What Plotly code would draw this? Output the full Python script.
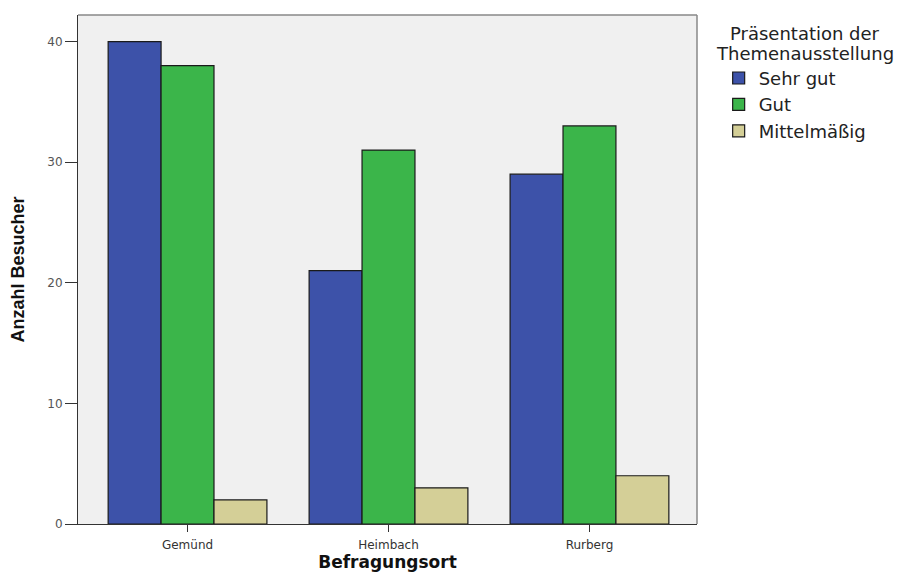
import plotly.graph_objects as go

categories = ["Gemünd", "Heimbach", "Rurberg"]
series_names = ["Sehr gut", "Gut", "Mittelmäßig"]
sehr_gut = [40, 21, 29]
gut = [38, 31, 33]
mittelmaessig = [2, 3, 4]
y_ticks = [0, 10, 20, 30, 40]
legend_title_lines = ["Präsentation der", "Themenausstellung"]

colors = ["#3D52A9", "#3BB54A", "#D4CF97"]
values = [sehr_gut, gut, mittelmaessig]

fig = go.Figure()
for name, vals, col in zip(series_names, values, colors):
    fig.add_trace(go.Bar(
        x=categories, y=vals, name=name, legendgroup=name,
        marker=dict(color=col, line=dict(color="#1a1a1a", width=1.2)),
    ))

# page body has an 8px margin -> shrink figure so it fits the window
W, H = 895, 564
fig.update_layout(
    width=W, height=H,
    margin=dict(l=70, r=206, t=7, b=48),
    paper_bgcolor="white",
    plot_bgcolor="#F0F0F0",
    barmode="group",
    bargap=0.21,
    bargroupgap=0,
    font=dict(family="DejaVu Sans, Arial, sans-serif", color="#222"),
    legend=dict(
        x=1.035, xanchor="left", y=0.912, yanchor="top",
        font=dict(size=18, color="#222", family="DejaVu Sans, Arial, sans-serif"),
        bgcolor="rgba(0,0,0,0)",
        tracegroupgap=5,
        traceorder="normal",
    ),
    showlegend=True,
)

for i, line in enumerate(legend_title_lines):
    fig.add_annotation(
        text=line, xref="paper", yref="paper",
        x=1.175, y=(516 - (25 + 21 * i)) / 509, xanchor="center", yanchor="middle",
        showarrow=False, font=dict(size=18, color="#222", family="DejaVu Sans, Arial, sans-serif"),
    )

fig.update_xaxes(
    range=[-0.545, 2.535],
    showline=True, linecolor="#333", linewidth=1, mirror=False,
    ticks="outside", ticklen=7, tickcolor="#333",
    ticklabelstandoff=3,
    tickfont=dict(size=12, color="#333", family="DejaVu Sans, Arial, sans-serif"),
    title=dict(text="<b>Befragungsort</b>",
               font=dict(size=17, color="#111", family="DejaVu Sans, Arial, sans-serif"),
               standoff=10),
    showgrid=False, automargin=False,
)
fig.update_yaxes(
    range=[0, 42.2],
    tickvals=y_ticks,
    showline=True, linecolor="#333", linewidth=1,
    ticks="outside", ticklen=12, tickcolor="#333",
    tickfont=dict(size=12, color="#555", family="DejaVu Sans, Arial, sans-serif"),
    title=dict(text="<b>Anzahl Besucher</b>", font=dict(size=18, color="#111",
               family="Liberation Sans Narrow, Arial Narrow, sans-serif"), standoff=22),
    showgrid=False, zeroline=False, automargin=False,
)

# top and right frame lines (grey)
fig.add_shape(type="line", xref="paper", yref="paper", x0=0, x1=1, y0=1, y1=1,
              line=dict(color="#888", width=1.5))
fig.add_shape(type="line", xref="paper", yref="paper", x0=1, x1=1, y0=0, y1=1,
              line=dict(color="#888", width=1.5))

fig.write_html("out.html")
